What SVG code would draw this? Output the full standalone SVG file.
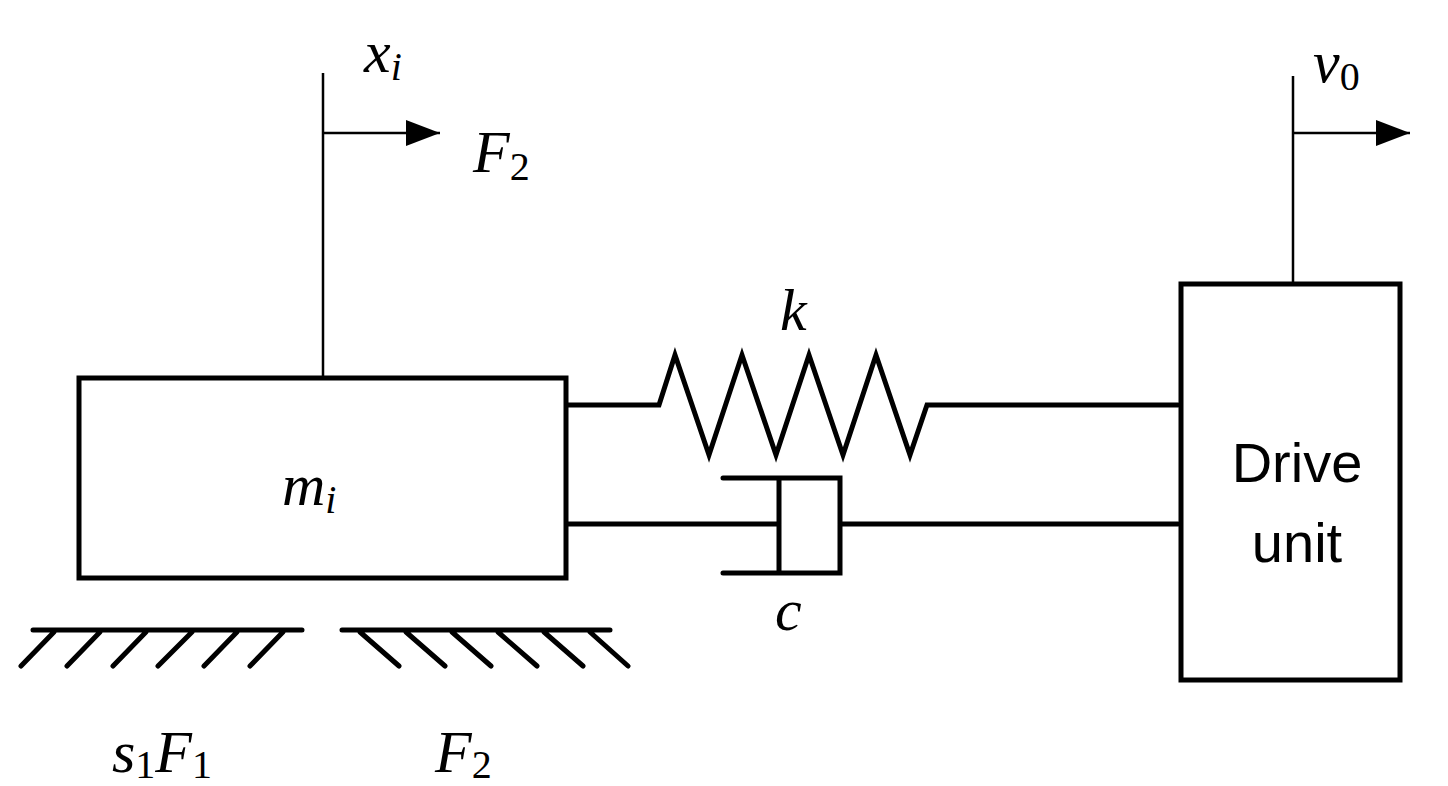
<svg xmlns="http://www.w3.org/2000/svg" width="1448" height="786" viewBox="0 0 1448 786">
<style>
.t{stroke:#000;stroke-width:5;fill:none;stroke-linecap:round;stroke-linejoin:miter}
.th{stroke:#000;stroke-width:2.5;fill:none}
.i{font-family:"Liberation Serif",serif;font-style:italic;font-size:60px;fill:#000}
.s{font-family:"Liberation Serif",serif;font-style:normal;font-size:40px;fill:#000}
.si{font-family:"Liberation Serif",serif;font-style:italic;font-size:40px;fill:#000}
.n{font-family:"Liberation Sans",sans-serif;font-size:56px;fill:#000;text-anchor:middle}
</style>
<defs>
<marker id="b" markerWidth="34" markerHeight="26" refX="34" refY="13" orient="auto" markerUnits="userSpaceOnUse"><path d="M0,0 L34,13 L0,26 Z"/></marker></defs>
<rect width="1448" height="786" fill="#fff"/>
<g id="mass"><rect class="t" x="79" y="378" width="487" height="200"/><text class="i" x="282" y="505">m<tspan class="si" dy="8">i</tspan></text></g>
<g id="drive"><rect class="t" x="1181" y="284" width="219" height="396"/><text class="n" x="1297" y="482">Drive</text><text class="n" x="1297" y="562">unit</text></g>
<g id="ground">
<path class="t" d="M33,630H302M54,632L21,666M100,632L67,666M146,632L113,666M192,632L158,666M237,632L204,666M283,632L250,666"/>
<path class="t" d="M342,630H610M360,632L399,666M406,632L445,666M452,632L491,666M498,632L537,666M544,632L583,666M590,632L628,666"/>
</g>
<g id="connectors">
<path class="t" d="M568,405H659L675,355L709,455L742,355L776,455L809,355L843,455L876,355L910,455L927,405H1178"/>
<path class="t" d="M723,478H840V573H723M779,478V573M568,524H779M840,524H1178"/>
<path class="th" d="M323,73V378M1293,76V284"/>
<path class="th" d="M323,133H440" marker-end="url(#b)"/>
<path class="th" d="M1293,133H1410" marker-end="url(#b)"/>
</g>
<g id="labels">
<text class="i" x="364" y="72">x<tspan class="si" dy="8">i</tspan></text>
<text class="i" x="473" y="172">F<tspan class="s" dy="8">2</tspan></text>
<text class="i" x="1313" y="82">v<tspan class="s" dy="8">0</tspan></text>
<text class="i" x="780" y="330">k</text>
<text class="i" x="775" y="630">c</text>
<text class="i" x="112" y="772">s<tspan class="s" dy="6">1</tspan><tspan dy="-6">F</tspan><tspan class="s" dy="6">1</tspan></text>
<text class="i" x="435" y="772">F<tspan class="s" dy="6">2</tspan></text>
</g>
</svg>
